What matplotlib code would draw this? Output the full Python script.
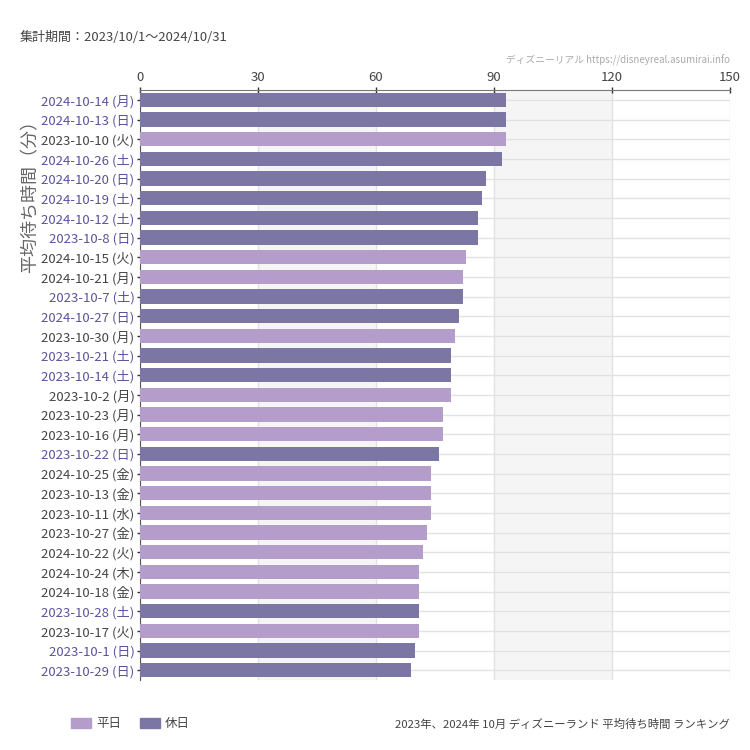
import matplotlib.pyplot as plt
from matplotlib.patches import Patch
import numpy as np

plt.rcParams['font.family'] = ['Noto Sans CJK JP', 'DejaVu Sans']

dates = ["2024-10-14 (月)", "2024-10-13 (日)", "2023-10-10 (火)", "2024-10-26 (土)",
         "2024-10-20 (日)", "2024-10-19 (土)", "2024-10-12 (土)", "2023-10-8 (日)",
         "2024-10-15 (火)", "2024-10-21 (月)", "2023-10-7 (土)", "2024-10-27 (日)",
         "2023-10-30 (月)", "2023-10-21 (土)", "2023-10-14 (土)", "2023-10-2 (月)",
         "2023-10-23 (月)", "2023-10-16 (月)", "2023-10-22 (日)", "2024-10-25 (金)",
         "2023-10-13 (金)", "2023-10-11 (水)", "2023-10-27 (金)", "2024-10-22 (火)",
         "2024-10-24 (木)", "2024-10-18 (金)", "2023-10-28 (土)", "2023-10-17 (火)",
         "2023-10-1 (日)", "2023-10-29 (日)"]
waits = [93, 93, 93, 92, 88, 87, 86, 86, 83, 82, 82, 81, 80, 79, 79, 79,
         77, 77, 76, 74, 74, 74, 73, 72, 71, 71, 71, 71, 70, 69]
holiday = [1, 1, 0, 1, 1, 1, 1, 1, 0, 0, 1, 1, 0, 1, 1, 0,
           0, 0, 1, 0, 0, 0, 0, 0, 0, 0, 1, 0, 1, 1]

c_weekday = "#b49dcb"
c_holiday = "#7c76a5"
lab_holiday = "#5a529c"
lab_weekday = "#444444"

fig = plt.figure(figsize=(7.5, 7.5), dpi=100)
ax = fig.add_axes([140/750, 1 - 680/750, 590/750, 590/750])

y = np.arange(len(dates))
colors = [c_holiday if h else c_weekday for h in holiday]
ax.barh(y, waits, height=0.72, color=colors, zorder=3)

# alternating bands
for a, b in [(30, 60), (90, 120)]:
    ax.axvspan(a, b, color="#f4f5f4", zorder=0, lw=0)

ax.set_xlim(0, 150)
ax.set_ylim(len(dates) - 0.5, -0.5)
ax.xaxis.tick_top()
ax.set_xticks([0, 30, 60, 90, 120, 150])
ax.set_yticks(y)
ax.set_yticklabels(dates)
for lbl, h in zip(ax.get_yticklabels(), holiday):
    lbl.set_color(lab_holiday if h else lab_weekday)
ax.tick_params(axis="y", labelsize=9.5, length=4, direction="inout", width=1, color="#333333", pad=2)
ax.tick_params(axis="x", labelsize=9.5, length=4, direction="inout", width=1, color="#333333",
               labelcolor="#444444", pad=2)
ax.grid(True, color="#e2e2e2", lw=1, zorder=1)
ax.set_axisbelow(True)

for s in ["right", "bottom"]:
    ax.spines[s].set_visible(False)
ax.spines["top"].set_color("#777777")
ax.spines["left"].set_color("#555555")

fig.text(20/750, 1 - 37/750, "集計期間：2023/10/1～2024/10/31", fontsize=9.4, color="#444444", va="center")
fig.text(730/750, 1 - 60/750, "ディズニーリアル https://disneyreal.asumirai.info", fontsize=7,
         color="#aaaaaa", va="center", ha="right")
fig.text(30/750, 1 - 192/750, "平均待ち時間（分）", fontsize=13, color="#666666",
         rotation=90, va="center", ha="center")
fig.text(730/750, 1 - 724/750, "2023年、2024年 10月 ディズニーランド 平均待ち時間 ランキング",
         fontsize=8.2, color="#444444", va="center", ha="right")

handles = [Patch(color=c_weekday, label="平日"), Patch(color=c_holiday, label="休日")]
fig.legend(handles=handles, loc="center left", bbox_to_anchor=(60/750, 1 - 724/750), ncol=2,
           frameon=False, fontsize=9, handlelength=1.6, handleheight=0.9, handletextpad=0.4,
           columnspacing=1.5, labelcolor="#444444")

fig.savefig("out.png", dpi=100, facecolor="white")
